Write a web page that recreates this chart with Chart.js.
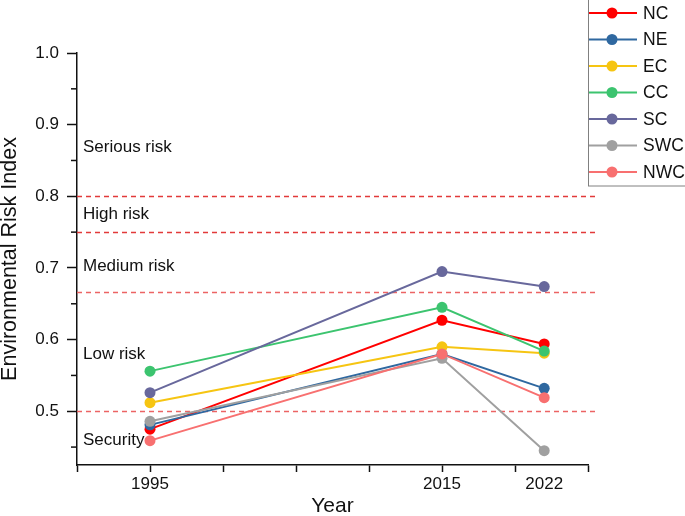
<!DOCTYPE html>
<html>
<head>
<meta charset="utf-8">
<script src="https://cdn.jsdelivr.net/npm/chart.js@4/dist/chart.umd.min.js"></script>
<style>
  html, body { margin: 0; padding: 0; background: #fff; }
  #wrap { width: 685px; height: 516px; }
</style>
</head>
<body>
<div id="wrap"><canvas id="graph"></canvas></div>
<script>
var years = [1995, 2015, 2022];
var regions = ["NC", "NE", "EC", "CC", "SC", "SWC", "NWC"];
var ncValues  = [0.475, 0.627, 0.594];
var neValues  = [0.481, 0.580, 0.532];
var ecValues  = [0.512, 0.590, 0.581];
var ccValues  = [0.556, 0.645, 0.584];
var scValues  = [0.526, 0.695, 0.674];
var swcValues = [0.486, 0.574, 0.445];
var nwcValues = [0.459, 0.580, 0.519];
var seriesValues = [ncValues, neValues, ecValues, ccValues, scValues, swcValues, nwcValues];
var colors = ["#ff0000", "#2f68a0", "#f6c512", "#3cc46f", "#68689c", "#a0a0a0", "#f87070"];

var yearTicks = [1990, 1995, 2000, 2005, 2010, 2015, 2020, 2022, 2025];
var yearLabels = [1995, 2015, 2022];
var indexTicks = [0.45, 0.5, 0.55, 0.6, 0.65, 0.7, 0.75, 0.8, 0.85, 0.9, 0.95, 1.0];

var thresholds = [0.8, 0.75, 0.667, 0.5];
var zoneNames = ["Serious risk", "High risk", "Medium risk", "Low risk", "Security"];
var zoneLevels = [0.869, 0.775, 0.702, 0.580, 0.460];

Chart.defaults.font.family = "'Liberation Sans', Arial, sans-serif";
Chart.defaults.color = "#111";

function isMajor(v) {
  return Math.round(v * 100) % 10 === 0;
}

var riskZones = {
  id: "riskZones",
  beforeDatasetsDraw: function(chart) {
    var ctx = chart.ctx, area = chart.chartArea, ys = chart.scales.y;
    ctx.save();
    ctx.lineWidth = 1.4;
    ctx.setLineDash([5, 4]);
    thresholds.forEach(function(t, i) {
      var py = Math.round(ys.getPixelForValue(t)) + 0.5;
      ctx.strokeStyle = i < 2 ? "#e23a3a" : "#ec6464";
      ctx.beginPath();
      ctx.moveTo(area.left, py);
      ctx.lineTo(area.right + 10, py);
      ctx.stroke();
    });
    ctx.setLineDash([]);
    ctx.fillStyle = "#111";
    ctx.font = "17px 'Liberation Sans', Arial, sans-serif";
    ctx.textBaseline = "middle";
    ctx.textAlign = "left";
    zoneNames.forEach(function(name, i) {
      ctx.fillText(name, area.left + 6, ys.getPixelForValue(zoneLevels[i]));
    });
    ctx.restore();
  },
  afterDraw: function(chart) {
    var ctx = chart.ctx, area = chart.chartArea, ys = chart.scales.y;
    ctx.save();
    // minor ticks on the y axis
    ctx.strokeStyle = "#111";
    ctx.lineWidth = 1.5;
    indexTicks.forEach(function(v) {
      if (isMajor(v)) return;
      var py = ys.getPixelForValue(v);
      ctx.beginPath();
      ctx.moveTo(area.left - 6, py);
      ctx.lineTo(area.left, py);
      ctx.stroke();
    });
    // legend box
    ctx.strokeStyle = "#808080";
    ctx.lineWidth = 1;
    ctx.strokeRect(588.5, -2, 120, 188);
    ctx.font = "17.5px 'Liberation Sans', Arial, sans-serif";
    ctx.textBaseline = "middle";
    regions.forEach(function(name, i) {
      var py = 13 + i * 26.5;
      ctx.strokeStyle = colors[i];
      ctx.lineWidth = 2;
      ctx.beginPath();
      ctx.moveTo(589, py);
      ctx.lineTo(637, py);
      ctx.stroke();
      ctx.fillStyle = colors[i];
      ctx.beginPath();
      ctx.arc(612, py, 5.5, 0, Math.PI * 2);
      ctx.fill();
      ctx.fillStyle = "#111";
      ctx.fillText(name, 643, py + 1);
    });
    ctx.restore();
  }
};

var datasets = regions.map(function(name, i) {
  return {
    label: name,
    data: years.map(function(yr, j) { return { x: yr, y: seriesValues[i][j] }; }),
    borderColor: colors[i],
    backgroundColor: colors[i],
    borderWidth: 2,
    pointRadius: 5.5,
    pointHoverRadius: 5.5,
    pointBorderWidth: 0,
    tension: 0,
    order: regions.length - i
  };
});

var chart = new Chart("graph", {
  type: "line",
  data: { datasets: datasets },
  plugins: [riskZones],
  options: {
    responsive: true,
    maintainAspectRatio: false,
    animation: false,
    layout: { padding: { top: 53, right: 97, bottom: 0, left: 0 } },
    plugins: { legend: { display: false }, tooltip: { enabled: false } },
    scales: {
      x: {
        type: "linear",
        min: 1990,
        max: 2025,
        afterBuildTicks: function(s) { s.ticks = yearTicks.map(function(v) { return { value: v }; }); },
        afterFit: function(s) { s.height = 51; },
        ticks: {
          autoSkip: false,
          maxRotation: 0,
          padding: 2,
          font: { size: 17 },
          callback: function(v) { return yearLabels.indexOf(v) >= 0 ? String(v) : ""; }
        },
        grid: {
          drawOnChartArea: false,
          tickLength: 7,
          tickWidth: 1.5,
          tickColor: function(c) { return c.tick && c.tick.value === 2022 ? "rgba(0,0,0,0)" : "#111"; }
        },
        border: { color: "#111", width: 1.5 },
        title: { display: true, text: "Year", font: { size: 21, lineHeight: 0.9 }, padding: 0 }
      },
      y: {
        min: 0.425,
        max: 1.0,
        afterBuildTicks: function(s) { s.ticks = indexTicks.map(function(v) { return { value: v }; }); },
        afterFit: function(s) { s.width = 77; },
        ticks: {
          autoSkip: false,
          padding: 8,
          font: { size: 17 },
          callback: function(v) { return isMajor(v) ? v.toFixed(1) : ""; }
        },
        grid: {
          drawOnChartArea: false,
          tickLength: 10,
          tickWidth: 1.5,
          tickColor: function(c) { return c.tick && isMajor(c.tick.value) ? "#111" : "rgba(0,0,0,0)"; }
        },
        border: { color: "#111", width: 1.5 },
        title: { display: true, text: "Environmental Risk Index", font: { size: 21.5, lineHeight: 0.9 }, padding: 0 }
      }
    }
  }
});
</script>
</body>
</html>
